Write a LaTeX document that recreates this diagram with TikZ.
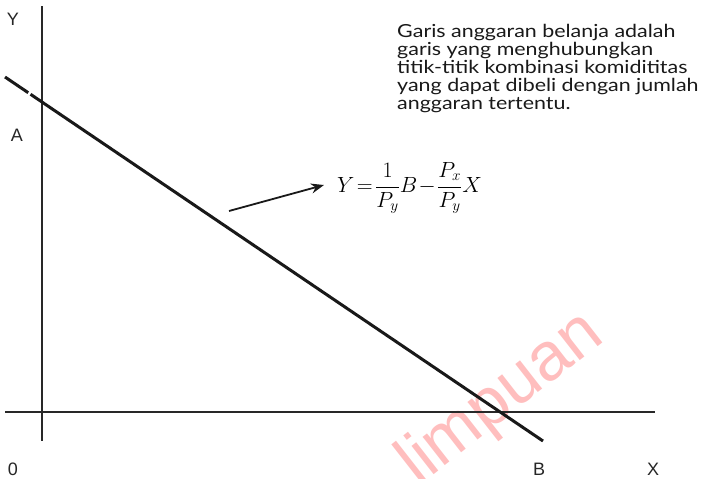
\documentclass[tikz,border=0pt]{standalone}
\usepackage{fontspec}
\setmainfont{Liberation Sans}
\newfontfamily\latofont{Lato}
\usetikzlibrary{arrows.meta}
\definecolor{wmark}{RGB}{255,190,190}
\definecolor{axisgray}{RGB}{40,40,40}
\tikzset{
  axisline/.style={draw=axisgray, line width=1.2pt},
  budget/.style={draw=black!90, line width=3pt},
  lbl/.style={font=\fontsize{18}{20}\selectfont, text=black!85, inner sep=0pt},
  note/.style={font=\latofont\fontsize{18}{18}\selectfont, align=left, inner sep=0pt, text=black!90, xscale=1.19},
  pointer/.style={draw=black!90, line width=1.8pt, -{Stealth[length=13pt,width=10pt]}},
}
\begin{document}
\begin{tikzpicture}[x=1pt,y=-1pt]
\useasboundingbox (0,0) rectangle (704,479);
% watermark
\begin{scope}
\clip (0,0) rectangle (704,479);
\node[font=\fontsize{68}{68}\selectfont, text=wmark, rotate=38, anchor=base east, inner sep=0pt] (wm) at (606,340) {limpuan};
\end{scope}
% axes
\coordinate (ytop) at (42,6);
\coordinate (ybot) at (42,441);
\coordinate (xl) at (5,412);
\coordinate (xr) at (655,412);
\draw[axisline] (ytop) -- (ybot);
\draw[axisline] (xl) -- (xr);
% budget line
\coordinate (bA) at (5,77);
\coordinate (bB) at (543,441);
\draw[budget] (bA) -- (bB);
\coordinate (g1) at (31.2,90.8);
\coordinate (g2) at (27.8,95.8);
\draw[white, line width=2.5pt] (g1) -- (g2);
% labels
\node[lbl] (lY) at (13,19) {Y};
\node[lbl] (lA) at (17,135) {A};
\node[lbl] (l0) at (13,469) {0};
\node[lbl] (lB) at (539,469) {B};
\node[lbl] (lX) at (653,469) {X};
% note
\node[note, anchor=north west] (txt) at (397,24) {Garis anggaran belanja adalah\\garis yang menghubungkan\\titik-titik kombinasi komidititas\\yang dapat dibeli dengan jumlah\\anggaran tertentu.};
% formula
\node[inner sep=0pt, anchor=west, scale=1.06, font=\fontsize{20.74}{24}\selectfont] (eq) at (337,188) {$\displaystyle Y\!=\!\frac{1}{P_y}B\!-\!\frac{P_x}{P_y}X$};
\coordinate (arrS) at (229,211);
\coordinate (arrE) at (324,185);
\draw[pointer] (arrS) -- (arrE);
\end{tikzpicture}
\end{document}
